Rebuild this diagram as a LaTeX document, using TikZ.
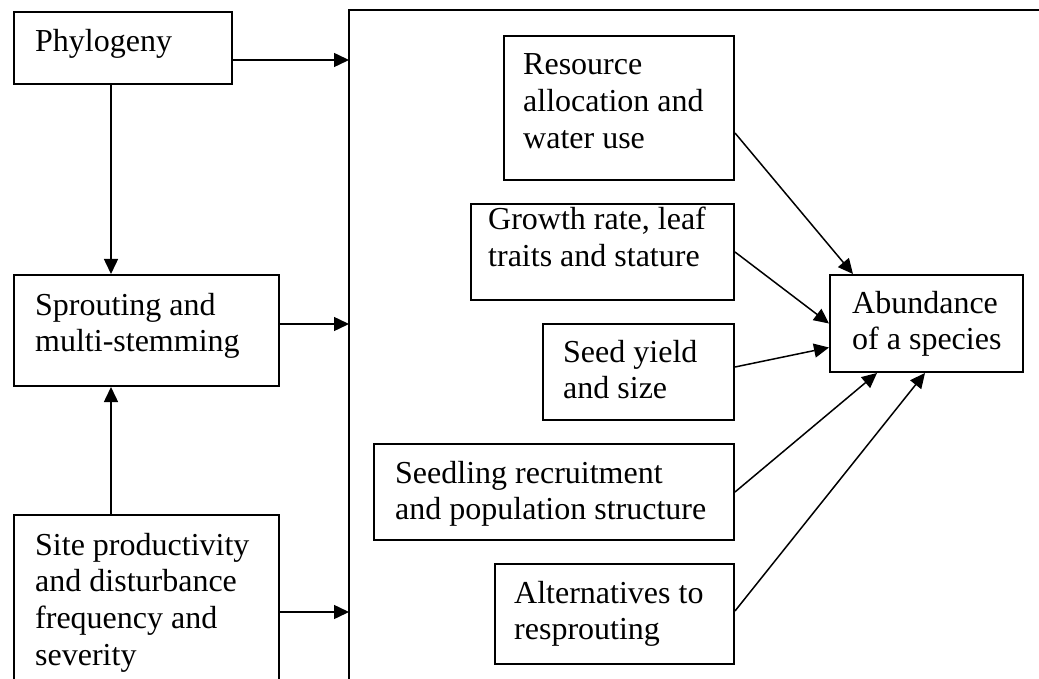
\documentclass[tikz,border=0pt]{standalone}
\usepackage{fontspec}
\setmainfont{Liberation Serif}
\usetikzlibrary{arrows.meta}
\begin{document}
\begin{tikzpicture}[x=1pt,y=-1pt,
  box/.style={draw, line width=2pt, inner sep=0pt, anchor=north west},
  lbl/.style={anchor=base west, inner sep=0pt, align=left, font=\fontsize{32}{36.8}\selectfont},
  conn/.style={line width=1.5pt, -{Triangle[length=15pt,width=14pt]}},
  plain/.style={line width=1.5pt}]
\useasboundingbox (0,0) rectangle (1039,679);
\clip (0,0) rectangle (1039,679);
% container
\node[inner sep=0pt, anchor=north west, minimum width=720pt, minimum height=700pt] (big) at (349,10) {};
\draw[line width=2pt] (big.south west) -- (big.north west) -- (big.north east);
% left boxes
\node[box, minimum width=218pt, minimum height=72pt] (phy) at (13,11) {};
\node[lbl] (phyt) at (35,52) {Phylogeny};
\node[box, minimum width=265pt, minimum height=111pt] (spr) at (13,274) {};
\node[lbl] (sprt) at (35,351.8) {Sprouting and\\multi-stemming};
\node[box, minimum width=265pt, minimum height=186pt] (site) at (13,514) {};
\node[lbl] (sitet) at (35,665.4) {Site productivity\\and disturbance\\frequency and\\severity};
% right boxes
\node[box, minimum width=230pt, minimum height=144pt] (res) at (503,35) {};
\node[lbl] (rest) at (523,148.6) {Resource\\allocation and\\water use};
\node[box, minimum width=263pt, minimum height=96pt] (gro) at (470,203) {};
\node[lbl] (grot) at (488,266.8) {Growth rate, leaf\\traits and stature};
\node[box, minimum width=191pt, minimum height=96pt] (seed) at (542,323) {};
\node[lbl] (seedt) at (563,398.8) {Seed yield\\and size};
\node[box, minimum width=360pt, minimum height=96pt] (sdl) at (373,443) {};
\node[lbl] (sdlt) at (395,519.8) {Seedling recruitment\\and population structure};
\node[box, minimum width=239pt, minimum height=100pt] (alt) at (494,563) {};
\node[lbl] (altt) at (514,639.8) {Alternatives to\\resprouting};
\node[box, minimum width=193pt, minimum height=97pt] (abd) at (829,274) {};
\node[lbl] (abdt) at (852,349.8) {Abundance\\of a species};
% left connectors
\draw[conn] ([yshift=-12pt]phy.east) -- ([yshift=-12pt]phy.east -| big.west);
\draw[conn] ([yshift=6.5pt]spr.east) -- ([yshift=6.5pt]spr.east -| big.west);
\draw[conn] ([yshift=-4pt]site.east) -- ([yshift=-4pt]site.east -| big.west);
\draw[conn] ([xshift=-12pt]phy.south) -- ([xshift=-12pt]phy.south |- spr.north);
\draw[conn] ([xshift=-35.5pt]site.north) -- ([xshift=-35.5pt]site.north |- spr.south);
% right connectors
\draw[conn] ([yshift=-25pt]res.east) -- ([xshift=24pt]abd.north west);
\draw[conn] (gro.east) -- (abd.west);
\draw[conn] ([yshift=5pt]seed.east) -- ([yshift=-24pt]abd.west);
\draw[conn] (sdl.east) -- ([xshift=48pt]abd.south west);
\draw[conn] ([yshift=3pt]alt.east) -- ([xshift=96pt]abd.south west);
\end{tikzpicture}
\end{document}
